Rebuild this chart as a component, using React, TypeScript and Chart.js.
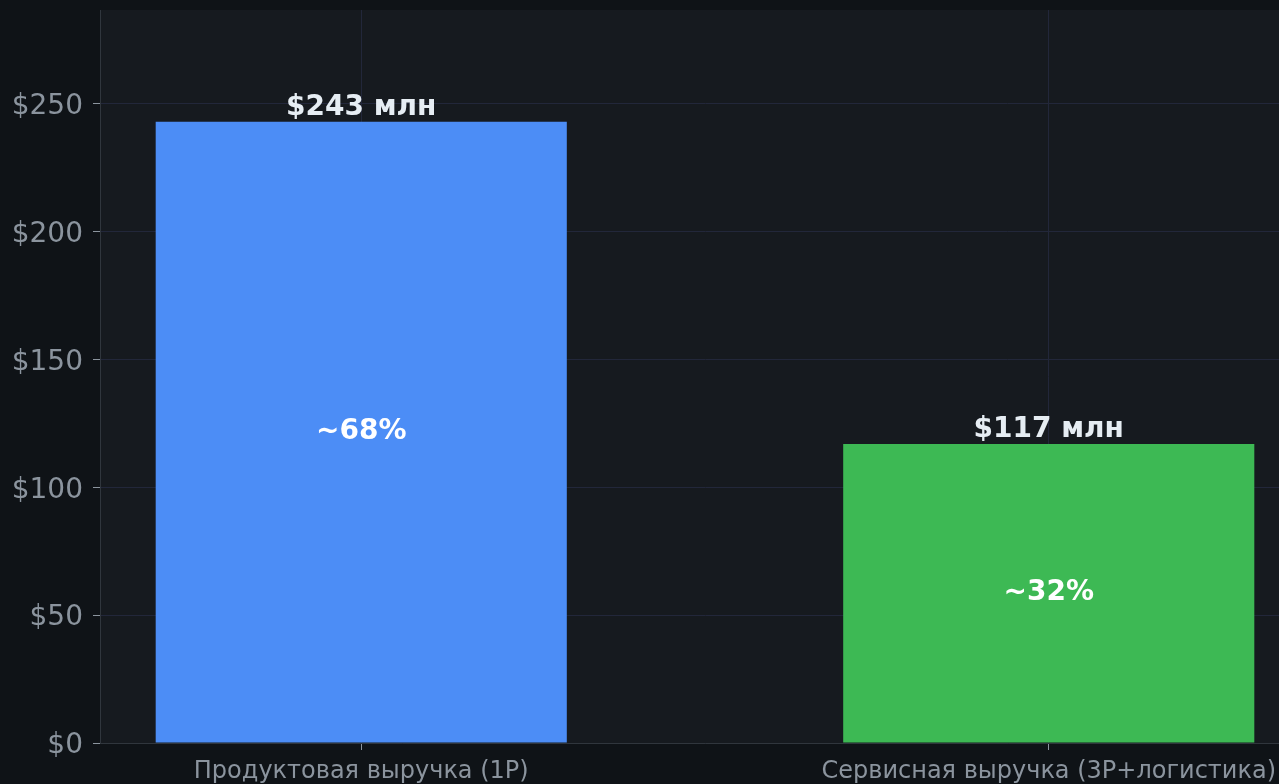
import React, { useEffect, useRef } from "react";
import { Chart, registerables } from "chart.js";

Chart.register(...registerables);

const categories = ["Продуктовая выручка (1P)", "Сервисная выручка (3P+логистика)"];
const revenue = [243, 117];
const valueLabels = ["$243 млн", "$117 млн"];
const shareLabels = ["~68%", "~32%"];
const barColors = ["#4c8df6", "#3db954"];
const yTicks = [0, 50, 100, 150, 200, 250];
const xPositions = [0, 1];

const FONT = "'DejaVu Sans', sans-serif";

const bgPlugin = {
  id: "plotBg",
  beforeDraw(chart: any) {
    const { ctx, chartArea } = chart;
    ctx.save();
    ctx.fillStyle = "#161a1f";
    ctx.fillRect(chartArea.left, chartArea.top, chartArea.right - chartArea.left, chartArea.bottom - chartArea.top);
    ctx.restore();
  },
};

const labelPlugin = {
  id: "barLabels",
  afterDatasetsDraw(chart: any) {
    const { ctx } = chart;
    const meta = chart.getDatasetMeta(0);
    ctx.save();
    meta.data.forEach((bar: any, i: number) => {
      const base = bar.base;
      ctx.textAlign = "center";
      ctx.font = `bold 28px ${FONT}`;
      ctx.fillStyle = "#e6edf3";
      ctx.textBaseline = "alphabetic";
      ctx.fillText(valueLabels[i], bar.x, bar.y - 7);
      ctx.fillStyle = "#ffffff";
      ctx.textBaseline = "middle";
      ctx.fillText(shareLabels[i], bar.x, (bar.y + base) / 2);
    });
    ctx.restore();
  },
};

export default function App() {
  const ref = useRef<HTMLCanvasElement>(null);
  useEffect(() => {
    if (!ref.current) return;
    const chart = new Chart(ref.current, {
      type: "bar",
      data: {
        datasets: [
          {
            data: xPositions.map((x, i) => ({ x, y: revenue[i] })),
            backgroundColor: barColors,
            borderWidth: 0,
            barPercentage: 0.598,
            categoryPercentage: 1,
          },
        ],
      },
      options: {
        responsive: false,
        animation: false,
        layout: { padding: { top: 10, left: 0, right: 0, bottom: 0 } },
        plugins: { legend: { display: false }, tooltip: { enabled: false } },
        scales: {
          x: {
            type: "linear",
            min: -0.38,
            max: 1.38,
            offset: false,
            afterBuildTicks: (s: any) => {
              s.ticks = xPositions.map((v) => ({ value: v }));
            },
            afterFit: (s: any) => {
              s.height = 41;
              s.paddingLeft = 0;
              s.paddingRight = 0;
            },
            ticks: {
              callback: (v: any) => categories[Math.round(Number(v))] ?? "",
              color: "#8b949e",
              font: { family: FONT, size: 24 },
              padding: 7,
              maxRotation: 0,
              autoSkip: false,
            },
            grid: { offset: false, color: "#22273a", tickColor: "#8b949e", tickLength: 7, lineWidth: 1 },
            border: { color: "#30363d", width: 1 },
          },
          y: {
            min: 0,
            max: 286.74,
            afterBuildTicks: (s: any) => {
              s.ticks = yTicks.map((v) => ({ value: v }));
            },
            afterFit: (s: any) => {
              s.width = 100;
              s.paddingTop = 0;
              s.paddingBottom = 0;
            },
            ticks: {
              callback: (v: any) => "$" + v,
              color: "#8b949e",
              font: { family: FONT, size: 28 },
              padding: 10,
              labelOffset: 3,
            },
            grid: { color: "#22273a", tickColor: "#8b949e", tickLength: 7, lineWidth: 1 },
            border: { color: "#30363d", width: 1 },
          },
        },
      },
      plugins: [bgPlugin, labelPlugin],
    });
    return () => chart.destroy();
  }, []);
  return (
    <div
      style={{
        position: "absolute",
        left: 0,
        top: 0,
        width: 1279,
        height: 784,
        overflow: "hidden",
        background: "#0f1317",
      }}
    >
      <canvas ref={ref} width={1310} height={784} style={{ display: "block" }} />
    </div>
  );
}
